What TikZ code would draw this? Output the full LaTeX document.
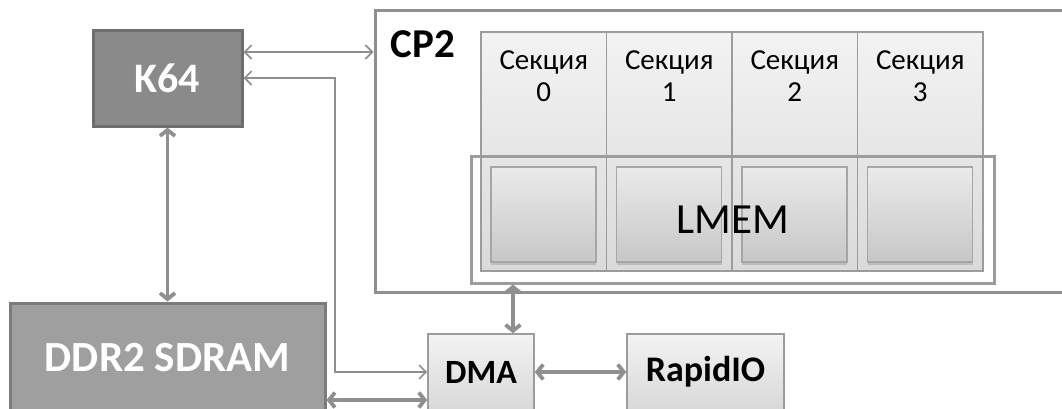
\documentclass[tikz,border=0pt]{standalone}
\usepackage{fontspec}
\setmainfont{Carlito}
\usetikzlibrary{arrows.meta,shadows}
\definecolor{darkfill}{HTML}{8A8A8A}
\definecolor{darkedge}{HTML}{6E6E6E}
\definecolor{midfill}{HTML}{9F9F9F}
\definecolor{midedge}{HTML}{7C7C7C}
\definecolor{linegray}{HTML}{8F8F8F}
\definecolor{edgegray}{HTML}{9C9C9C}
\definecolor{shadetop}{HTML}{F3F3F3}
\definecolor{shadebot}{HTML}{D8D8D8}
\def\nsec{3}
\def\secw{125.5}
\newcommand{\fsz}[1]{\fontsize{#1}{#1}\selectfont}
\tikzset{
  k64box/.style={fill=darkfill, draw=darkedge, line width=3pt, text=white,
    minimum width=149pt, minimum height=96pt, font=\bfseries\fsz{42}},
  ddrbox/.style={fill=midfill, draw=midedge, line width=3pt, text=white,
    minimum width=315pt, minimum height=110pt, font=\bfseries\fsz{43}},
  lightbox/.style={top color=shadetop, bottom color=shadebot, draw=edgegray,
    line width=1.6pt, minimum height=76pt, font=\bfseries\fsz{34}},
  secbox/.style={top color=shadetop, bottom color=shadebot!95!white, draw=edgegray,
    line width=1.6pt, minimum width=\secw pt, minimum height=239pt},
  cellbox/.style={top color=black!8, bottom color=black!22, draw=black!35,
    line width=1.4pt, minimum width=105pt, minimum height=95pt,
    drop shadow={opacity=0.35, shadow xshift=0pt, shadow yshift=-2.5pt}},
  thickarr/.style={linegray, line width=3.8pt,
    {Straight Barb[length=6pt,width=15pt]}-{Straight Barb[length=6pt,width=15pt]}},
  thinarr/.style={linegray, line width=1.6pt,
    {Straight Barb[length=7pt,width=14pt]}-{Straight Barb[length=7pt,width=14pt]}}
}

\begin{document}
\begin{tikzpicture}[x=1pt, y=-1pt]
    \useasboundingbox (0,0) rectangle (1062,408);
    \clip (0,0) rectangle (1062,408);

    % big CP2 frame
    \node[draw=linegray, line width=3pt, minimum width=700pt, minimum height=282pt] (cp2) at (725,151) {};
    \node[font=\bfseries\fsz{41}] (cp2label) at (423,44) {CP2};

    % sections and LMEM cells
    \foreach \i in {0, ..., \nsec} {
      \node[secbox] (sec\i) at (543.75 + \i*\secw, 151.5) {};
      \node[anchor=north, inner sep=0pt, align=center, font=\fontsize{29}{32}\selectfont]
        (sectext\i) at ([yshift=-19pt]sec\i.north) {Секция\\\i};
    }
    \foreach \i in {0, ..., \nsec} {
      \node[cellbox] (cell\i) at (543.5 + \i*\secw, 214.5) {};
    }
    \node[draw=edgegray, line width=3pt, minimum width=523pt, minimum height=127pt,
      font=\fsz{43}] (lmem) at (732.5,219.5) {LMEM};

    % outer blocks
    \node[k64box] (k64) at (167.5,78) {K64};
    \node[ddrbox] (ddr) at (167.5,358) {DDR2 SDRAM};
    \node[lightbox, minimum width=106pt] (dma) at (481,372) {DMA};
    \node[lightbox, minimum width=157pt, font=\bfseries\fsz{36}] (rio) at (705.5,372) {RapidIO};

    % links
    \coordinate (turn) at (335,78);
    \draw[thinarr] ([yshift=26pt]k64.east) -- ([yshift=26pt]k64.east -| cp2.west);
    \draw[thinarr] (k64.east) -- (turn) |- (dma.west);
    \draw[thickarr] (k64.south) -- (ddr.north);
    \draw[thickarr] ([yshift=-28pt]dma.west -| ddr.east) -- ([yshift=-28pt]dma.west);
    \draw[thickarr] (dma.east) -- (rio.west);
    \draw[thickarr] ([xshift=32pt]dma.north) -- ([xshift=32pt]dma.north |- lmem.south);
\end{tikzpicture}
\end{document}
